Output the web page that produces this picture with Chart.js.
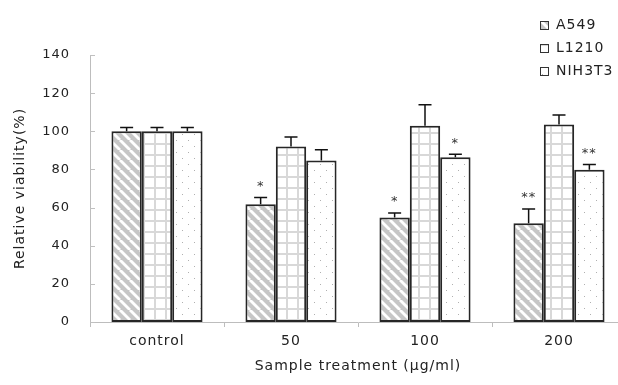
<!DOCTYPE html>
<html>
<head>
<meta charset="utf-8">
<script src="https://cdn.jsdelivr.net/npm/chart.js@4"></script>
<style>
  html, body { margin: 0; padding: 0; background: #fff; overflow: hidden; }
  #wrap { width: 618px; height: 385px; overflow: hidden; }
</style>
</head>
<body>
<div id="wrap"><canvas id="viability" width="640" height="385"></canvas></div>
<script>
const categories = ['control', '50', '100', '200'];
const seriesNames = ['A549', 'L1210', 'NIH3T3'];
const a549 = [100, 61.8, 54.8, 51.8];
const l1210 = [100, 92, 102.9, 103.6];
const nih3t3 = [100, 84.7, 86.4, 79.8];
const a549Err = [2, 3.5, 2.3, 7.5];
const l1210Err = [2, 5, 11, 5];
const nih3t3Err = [2, 5.6, 1.6, 2.8];
const a549Marks = ['', '*', '*', '**'];
const l1210Marks = ['', '', '', ''];
const nih3t3Marks = ['', '', '*', '**'];
const yTicks = [0, 20, 40, 60, 80, 100, 120, 140];

const FONT = 'DejaVu Sans';

function makePattern(size, paint) {
    const c = document.createElement('canvas');
    c.width = size; c.height = size;
    const g = c.getContext('2d');
    paint(g, size);
    return g.createPattern(c, 'repeat');
}

const stripes = makePattern(10, (g, s) => {
    g.fillStyle = '#c6c6c6';
    g.fillRect(0, 0, s, s);
    g.strokeStyle = '#fff';
    g.lineWidth = 2.8;
    for (let k = -s; k <= s; k += s) {
        g.beginPath();
        g.moveTo(k, 0);
        g.lineTo(k + s, s);
        g.stroke();
    }
});
const grid = makePattern(11, (g, s) => {
    g.fillStyle = '#fff';
    g.fillRect(0, 0, s, s);
    g.fillStyle = '#d8d8d8';
    g.fillRect(0, 0, 2, s);
    g.fillRect(0, 0, s, 2);
});
const dots = makePattern(12, (g, s) => {
    g.fillStyle = '#fff';
    g.fillRect(0, 0, s, s);
    g.fillStyle = '#b0b0b0';
    g.fillRect(2, 2, 1, 1);
    g.fillRect(8, 8, 1, 1);
});

const errors = [a549Err, l1210Err, nih3t3Err];
const marks = [a549Marks, l1210Marks, nih3t3Marks];
const fills = [stripes, grid, dots];

// wider letter spacing, like the original rendering
const spacing = {
    id: 'spacing',
    beforeLayout(chart) { chart.ctx.letterSpacing = '1px'; },
    beforeDraw(chart) { chart.ctx.letterSpacing = '1px'; }
};

// error bars, significance stars, inward y ticks, legend
const extras = {
    id: 'extras',
    afterDatasetsDraw(chart) {
        const ctx = chart.ctx;
        const y = chart.scales.y;
        ctx.save();
        chart.data.datasets.forEach((ds, i) => {
            const meta = chart.getDatasetMeta(i);
            meta.data.forEach((bar, j) => {
                const capY = y.getPixelForValue(ds.data[j] + errors[i][j]);
                ctx.strokeStyle = '#111';
                ctx.lineWidth = 1.5;
                ctx.beginPath();
                ctx.moveTo(bar.x, bar.y);
                ctx.lineTo(bar.x, capY);
                ctx.moveTo(bar.x - 6.5, capY);
                ctx.lineTo(bar.x + 6.5, capY);
                ctx.stroke();
                if (marks[i][j]) {
                    ctx.fillStyle = '#333';
                    ctx.font = '13px ' + FONT;
                    ctx.textAlign = 'center';
                    ctx.textBaseline = 'middle';
                    ctx.fillText(marks[i][j], bar.x, capY - 11);
                }
            });
        });

        // small ticks pointing into the plot
        ctx.strokeStyle = '#c0c0c0';
        ctx.lineWidth = 1;
        yTicks.forEach(v => {
            const py = Math.round(y.getPixelForValue(v)) + 0.5;
            ctx.beginPath();
            ctx.moveTo(chart.chartArea.left, py);
            ctx.lineTo(chart.chartArea.left + 5, py);
            ctx.stroke();
        });

        // legend
        const rows = [25, 48, 71];
        ctx.font = '14px ' + FONT;
        ctx.textAlign = 'left';
        ctx.textBaseline = 'middle';
        seriesNames.forEach((name, i) => {
            ctx.fillStyle = fills[i];
            ctx.fillRect(540, rows[i] - 4, 8, 8);
            ctx.strokeStyle = '#333';
            ctx.lineWidth = 1;
            ctx.strokeRect(540.5, rows[i] - 3.5, 8, 8);
            ctx.fillStyle = '#222';
            ctx.fillText(name, 556, rows[i]);
        });
        ctx.restore();
    }
};

new Chart(document.getElementById('viability'), {
    type: 'bar',
    data: {
        labels: categories,
        datasets: [
            { label: seriesNames[0], data: a549, backgroundColor: stripes },
            { label: seriesNames[1], data: l1210, backgroundColor: grid },
            { label: seriesNames[2], data: nih3t3, backgroundColor: dots }
        ]
    },
    options: {
        responsive: false,
        animation: false,
        devicePixelRatio: 1,
        layout: { padding: { top: 55, right: 14, left: 0, bottom: 0 } },
        datasets: {
            bar: {
                borderColor: '#262626',
                borderWidth: 2,
                borderSkipped: false,
                barPercentage: 1,
                categoryPercentage: 0.68
            }
        },
        scales: {
            x: {
                afterFit(scale) { scale.height = 63; },
                border: { color: '#bdbdbd', width: 1 },
                grid: {
                    offset: true,
                    drawOnChartArea: false,
                    tickLength: 5,
                    tickColor: '#bdbdbd'
                },
                ticks: { color: '#222', padding: 6, font: { family: FONT, size: 14 } },
                title: {
                    display: true,
                    text: 'Sample treatment (µg/ml)',
                    color: '#222',
                    font: { family: FONT, size: 14 },
                    padding: { top: 0, bottom: 10 }
                }
            },
            y: {
                min: 0,
                max: 140,
                afterFit(scale) { scale.width = 90; },
                border: { color: '#bdbdbd', width: 1 },
                grid: { display: false, drawTicks: false },
                ticks: { stepSize: 20, color: '#222', padding: 20, font: { family: FONT, size: 13 } },
                title: {
                    display: true,
                    text: 'Relative viability(%)',
                    color: '#222',
                    font: { family: FONT, size: 14 },
                    padding: { top: 12, bottom: 0 }
                }
            }
        },
        plugins: {
            legend: { display: false },
            tooltip: { enabled: false }
        }
    },
    plugins: [spacing, extras]
});
</script>
</body>
</html>
